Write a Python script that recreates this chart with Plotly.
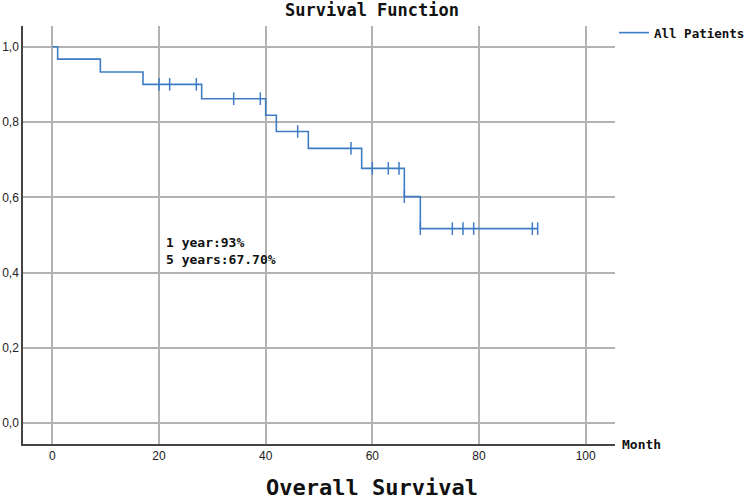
import plotly.graph_objects as go

# Kaplan-Meier step data
event_times = [0, 1, 9, 17, 28, 40, 42, 48, 58, 66, 69]
survival = [1.0, 0.967, 0.933, 0.900, 0.862, 0.818, 0.775, 0.730, 0.677, 0.602, 0.517]
last_time = 91
censor_times = [20, 22, 27, 34, 39, 46, 56, 60, 63, 65, 66, 69, 75, 77, 79, 90, 91]

x_ticks = [0, 20, 40, 60, 80, 100]
y_ticks = [0.0, 0.2, 0.4, 0.6, 0.8, 1.0]

annot_lines = ["1 year:93%", "5 years:67.70%"]


def surv_at(t):
    s = survival[0]
    for et, sv in zip(event_times, survival):
        if et <= t:
            s = sv
    return s


step_x = event_times + [last_time]
step_y = survival + [survival[-1]]
censor_y = [surv_at(t) for t in censor_times]

BLUE = "#3f7cc4"
MONO = "DejaVu Sans Mono"
PW, PH = 592, 418

fig = go.Figure()
fig.add_trace(go.Scatter(
    x=step_x, y=step_y, mode="lines", line=dict(shape="hv", color=BLUE, width=1.6),
    name="All Patients", showlegend=True, hoverinfo="skip"))
fig.add_trace(go.Scatter(
    x=censor_times, y=censor_y, mode="markers",
    marker=dict(symbol="line-ns-open", size=9, color=BLUE, line=dict(color=BLUE, width=1.5)),
    showlegend=False, hoverinfo="skip"))

grid = "#b3b3b3"
fig.update_xaxes(range=[-5.5, 105.5], tickvals=x_ticks, showgrid=True, gridcolor=grid,
                 gridwidth=1.5, zeroline=False, showline=True, linecolor="#444", linewidth=1.5,
                 ticks="", ticklen=0, automargin=False,
                 tickfont=dict(family="Liberation Sans", size=12, color="#222"))
fig.update_yaxes(range=[-0.055, 1.055], tickvals=y_ticks, tickformat=".1f", showgrid=True,
                 gridcolor=grid, gridwidth=1.5, zeroline=False, showline=True, linecolor="#444",
                 linewidth=1.5, ticks="", automargin=False,
                 tickfont=dict(family="Liberation Sans", size=12, color="#222"))

annotations = [
    dict(text="Survival Function", xref="paper", yref="paper", x=(372 - 23) / PW, y=1 + (26 - 10) / PH,
         showarrow=False, xanchor="center", yanchor="middle",
         font=dict(family=MONO, size=17, color="#111", weight="bold")),
    dict(text="Overall Survival", xref="paper", yref="paper", x=(372 - 23) / PW, y=-(487 - 444) / PH,
         showarrow=False, xanchor="center", yanchor="middle",
         font=dict(family=MONO, size=22, color="#111", weight="bold")),
    dict(text="Month", xref="paper", yref="paper", x=1 + 5 / PW, y=0,
         showarrow=False, xanchor="left", yanchor="middle",
         font=dict(family=MONO, size=13, color="#111", weight="bold")),
]
for i, txt in enumerate(annot_lines):
    annotations.append(dict(text=txt, x=21, y=[0.479, 0.436][i], xref="x", yref="y",
                            showarrow=False, xanchor="left", yanchor="middle",
                            font=dict(family=MONO, size=13, color="#111", weight="bold")))

fig.update_layout(
    width=752, height=501, margin=dict(l=23, r=137, t=26, b=57, autoexpand=False),
    plot_bgcolor="white", paper_bgcolor="white", separators=",.",
    annotations=annotations,
    legend=dict(xref="container", yref="container", x=614 / 752, xanchor="left",
                y=1 - 18 / 501, yanchor="top", bgcolor="rgba(0,0,0,0)",
                font=dict(family=MONO, size=12.5, color="#111", weight="bold")),
)

fig.write_html("out.html")
